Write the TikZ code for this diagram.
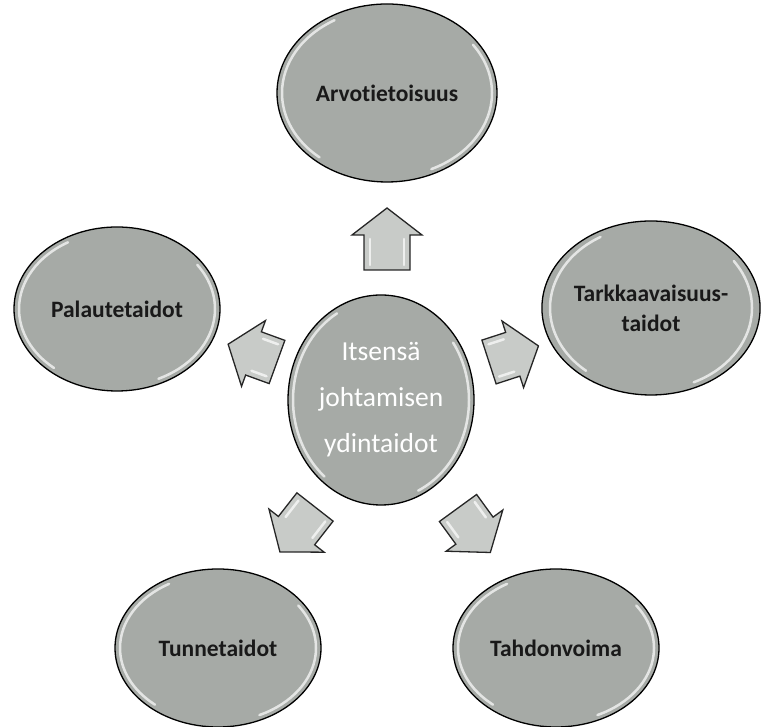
\documentclass[tikz,border=0pt]{standalone}
\usepackage{fontspec}
\setmainfont{Carlito}[Ligatures=NoCommon, RawFeature=-liga]
\usetikzlibrary{shapes.geometric}
\definecolor{bubblefill}{RGB}{166,170,166}
\definecolor{arrowfill}{RGB}{200,203,200}
\tikzset{
  bubble/.style={ellipse, draw=black, line width=1.3pt, fill=bubblefill, inner sep=0pt,
    font=\bfseries\fontsize{23.5}{30}\selectfont, align=center, text=black!90},
  core/.style={bubble, font=\fontsize{27.5}{46}\selectfont, text=white},
  blockarrow/.style={draw=black!85, line width=1.3pt, fill=arrowfill, line join=miter},
  shine/.style={white, line width=2.5pt, opacity=.7, line cap=round},
}
% block arrow: tail centre x, y, direction angle, length
\newcommand\myarrow[4]{%
  \begin{scope}[shift={(#1,#2)}, rotate=#3]
    \path[blockarrow] (0,-23) -- (#4-27,-23) -- (#4-27,-35) -- (#4,0) -- (#4-27,35)
      -- (#4-27,23) -- (0,23) -- cycle;
    \draw[shine] (5,-17) -- (#4-31,-17);
    \draw[shine] (5,17) -- (#4-31,17);
  \end{scope}}
% bevel highlights of an ellipse node: name, inner x radius, inner y radius
\newcommand\myshine[3]{%
  \draw[shine] ([shift={(120:#2 and #3)}]#1.center) arc[start angle=120, end angle=230, x radius=#2, y radius=#3];
  \draw[shine] ([shift={(-65:#2 and #3)}]#1.center) arc[start angle=-65, end angle=35, x radius=#2, y radius=#3];}
\begin{document}
\begin{tikzpicture}[x=1pt, y=1pt]
  \useasboundingbox (0,0) rectangle (765,727);
  \node[bubble, minimum width=220, minimum height=178] (arvo) at (387,634) {Arvotietoisuus};
  \node[bubble, minimum width=206, minimum height=164] (pal) at (117,418) {Palautetaidot};
  \node[bubble, minimum width=212, minimum height=174] (tark) at (651,419) {Tarkkaavaisuus-\\taidot};
  \node[bubble, minimum width=206, minimum height=158] (tunne) at (218,79) {Tunnetaidot};
  \node[bubble, minimum width=206, minimum height=158] (tahdon) at (556,79) {Tahdonvoima};
  \node[core, minimum width=186, minimum height=210] (core) at (381,327) {Itsensä\\johtamisen\\ydintaidot};
  \myshine{arvo}{105}{84}
  \myshine{pal}{98}{77}
  \myshine{tark}{101}{82}
  \myshine{tunne}{98}{74}
  \myshine{tahdon}{98}{74}
  \myshine{core}{88}{100}
  \myarrow{387}{457}{90}{62}
  \myarrow{277}{365}{160}{52}
  \myarrow{489}{365}{18}{52}
  \myarrow{315}{220}{232}{57}
  \myarrow{458}{219}{-54}{55}
\end{tikzpicture}
\end{document}
